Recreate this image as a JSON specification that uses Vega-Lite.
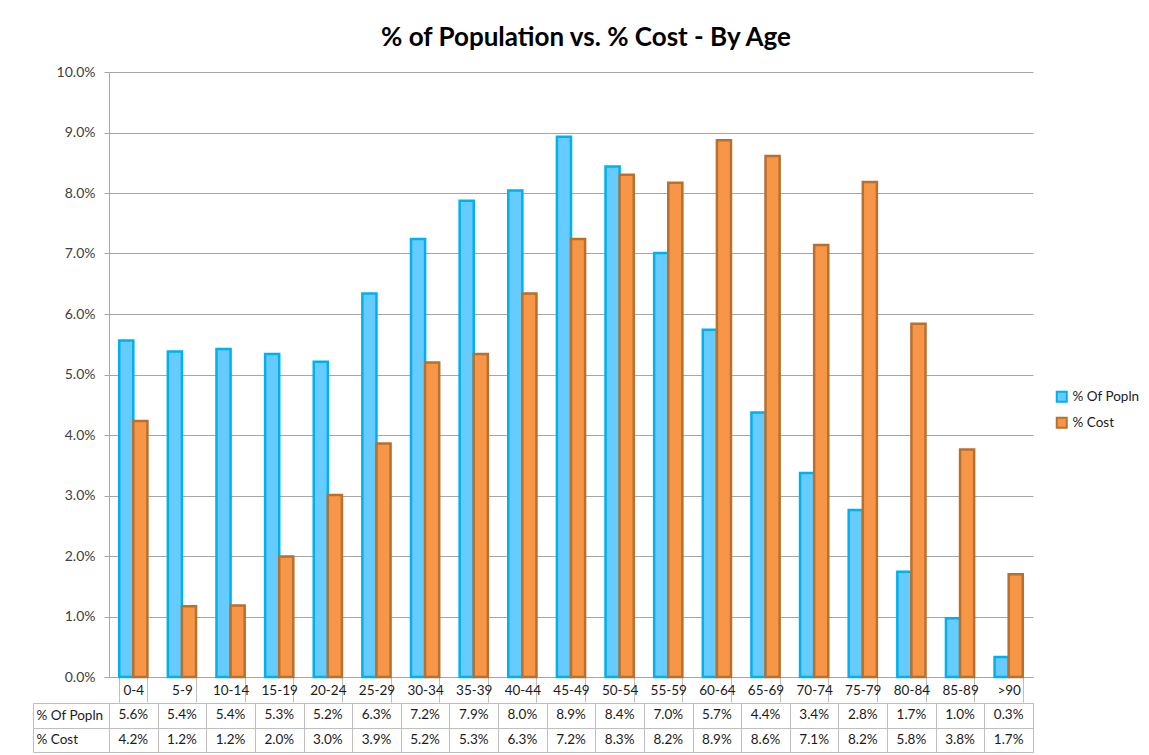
{
  "$schema": "https://vega.github.io/schema/vega-lite/v6.json",
  "background": "white",
  "padding": {"left": 32, "top": 25, "right": 5, "bottom": 0},
  "title": {"text": "% of Population vs. % Cost - By Age", "fontSize": 26, "font": "Lato", "fontWeight": "bold", "color": "#000000", "anchor": "middle", "offset": 14},
  "datasets": {
    "d": [
      {"age": "0-4", "series": "% Of Popln", "value": 0.0556},
      {"age": "5-9", "series": "% Of Popln", "value": 0.0538},
      {"age": "10-14", "series": "% Of Popln", "value": 0.0542},
      {"age": "15-19", "series": "% Of Popln", "value": 0.0534},
      {"age": "20-24", "series": "% Of Popln", "value": 0.0521},
      {"age": "25-29", "series": "% Of Popln", "value": 0.0634},
      {"age": "30-34", "series": "% Of Popln", "value": 0.0724},
      {"age": "35-39", "series": "% Of Popln", "value": 0.0787},
      {"age": "40-44", "series": "% Of Popln", "value": 0.0804},
      {"age": "45-49", "series": "% Of Popln", "value": 0.0893},
      {"age": "50-54", "series": "% Of Popln", "value": 0.0844},
      {"age": "55-59", "series": "% Of Popln", "value": 0.0701},
      {"age": "60-64", "series": "% Of Popln", "value": 0.0574},
      {"age": "65-69", "series": "% Of Popln", "value": 0.0437},
      {"age": "70-74", "series": "% Of Popln", "value": 0.0337},
      {"age": "75-79", "series": "% Of Popln", "value": 0.0276},
      {"age": "80-84", "series": "% Of Popln", "value": 0.0174},
      {"age": "85-89", "series": "% Of Popln", "value": 0.0097},
      {"age": ">90", "series": "% Of Popln", "value": 0.0033},
      {"age": "0-4", "series": "% Cost", "value": 0.0423},
      {"age": "5-9", "series": "% Cost", "value": 0.0117},
      {"age": "10-14", "series": "% Cost", "value": 0.0118},
      {"age": "15-19", "series": "% Cost", "value": 0.0199},
      {"age": "20-24", "series": "% Cost", "value": 0.0301},
      {"age": "25-29", "series": "% Cost", "value": 0.0386},
      {"age": "30-34", "series": "% Cost", "value": 0.0520},
      {"age": "35-39", "series": "% Cost", "value": 0.0534},
      {"age": "40-44", "series": "% Cost", "value": 0.0634},
      {"age": "45-49", "series": "% Cost", "value": 0.0724},
      {"age": "50-54", "series": "% Cost", "value": 0.0830},
      {"age": "55-59", "series": "% Cost", "value": 0.0817},
      {"age": "60-64", "series": "% Cost", "value": 0.0887},
      {"age": "65-69", "series": "% Cost", "value": 0.0861},
      {"age": "70-74", "series": "% Cost", "value": 0.0714},
      {"age": "75-79", "series": "% Cost", "value": 0.0818},
      {"age": "80-84", "series": "% Cost", "value": 0.0584},
      {"age": "85-89", "series": "% Cost", "value": 0.0376},
      {"age": ">90", "series": "% Cost", "value": 0.0170}
    ]
  },
  "data": {"name": "d"},
  "spacing": -8,
  "vconcat": [
    {
      "width": 924,
      "height": 605,
      "mark": {"type": "bar", "strokeWidth": 2.5},
      "encoding": {
        "x": {
          "field": "age", "type": "nominal", "sort": null,
          "scale": {"paddingInner": 0.42, "paddingOuter": 0.21},
          "axis": {"title": null, "labelAngle": 0, "labelFontSize": 13.5, "labelColor": "#1a1a1a", "tickBand": "extent", "tickSize": 25, "tickColor": "#BFBFBF", "domainColor": "#A6A6A6", "labelPadding": -19, "grid": false}
        },
        "xOffset": {"field": "series", "type": "nominal", "scale": {"domain": ["% Of Popln", "% Cost"], "paddingInner": 0}},
        "y": {
          "field": "value", "type": "quantitative",
          "scale": {"domain": [0, 0.1], "nice": false},
          "axis": {"title": null, "format": ".1%", "values": [0, 0.01, 0.02, 0.03, 0.04, 0.05, 0.06, 0.07, 0.08, 0.09, 0.1], "grid": true, "gridColor": "#A6A6A6", "tickSize": 5, "tickColor": "#A6A6A6", "domainColor": "#A6A6A6", "labelPadding": 9, "labelFontSize": 14, "labelColor": "#404040"}
        },
        "color": {
          "field": "series", "type": "nominal",
          "scale": {"domain": ["% Of Popln", "% Cost"], "range": ["#66CCFF", "#F79646"]},
          "legend": {"title": null, "orient": "none", "legendX": 946, "legendY": 318, "symbolType": "square", "symbolSize": 100, "symbolStrokeWidth": 2, "labelFontSize": 13.5, "labelColor": "#1a1a1a", "rowPadding": 7, "labelOffset": 4}
        },
        "stroke": {
          "field": "series", "type": "nominal",
          "scale": {"domain": ["% Of Popln", "% Cost"], "range": ["#00B0F0", "#B8702F"]},
          "legend": {"title": null, "orient": "none", "legendX": 946, "legendY": 318, "symbolType": "square", "symbolSize": 100, "symbolStrokeWidth": 2, "labelFontSize": 13.5, "labelColor": "#1a1a1a", "rowPadding": 7, "labelOffset": 4}
        }
      }
    },
    {
      "width": 924,
      "height": 49,
      "view": {"stroke": "#BFBFBF"},
      "mark": {"type": "text", "fontSize": 13.5, "color": "#1a1a1a"},
      "encoding": {
        "x": {
          "field": "age", "type": "nominal", "sort": null,
          "scale": {"paddingInner": 0, "paddingOuter": 0},
          "axis": {"title": null, "labels": false, "ticks": false, "domain": false, "grid": true, "tickBand": "extent", "gridColor": "#BFBFBF"}
        },
        "y": {
          "field": "series", "type": "nominal",
          "scale": {"domain": ["% Of Popln", "% Cost"], "paddingInner": 0, "paddingOuter": 0},
          "axis": {"title": null, "offset": 76, "domain": true, "domainColor": "#BFBFBF", "ticks": true, "tickSize": -76, "tickBand": "extent", "tickColor": "#BFBFBF", "grid": true, "gridColor": "#BFBFBF", "labelAlign": "left", "labelPadding": 73, "labelFontSize": 13.5, "labelColor": "#1a1a1a"}
        },
        "text": {"field": "value", "type": "quantitative", "format": ".1%"}
      }
    }
  ],
  "config": {
    "font": "Lato",
    "view": {"stroke": null},
    "axis": {"labelFont": "Lato"},
    "legend": {"labelFont": "Lato"}
  }
}
